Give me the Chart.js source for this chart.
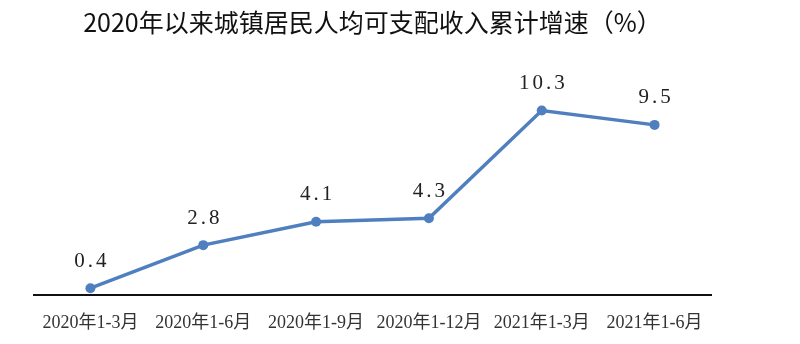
<!DOCTYPE html>
<html>
<head>
<meta charset="utf-8">
<script src="https://cdn.jsdelivr.net/npm/chart.js@4/dist/chart.umd.min.js"></script>
<style>
  html, body { margin: 0; padding: 0; background: #fff; }
  #wrap { width: 800px; height: 344px; }
</style>
</head>
<body>
<div id="wrap"><canvas id="c" width="800" height="344"></canvas></div>
<script>
// 城镇居民人均可支配收入累计增速（%）
const periods = ['2020年1-3月', '2020年1-6月', '2020年1-9月', '2020年1-12月', '2021年1-3月', '2021年1-6月'];
const growth = [0.4, 2.8, 4.1, 4.3, 10.3, 9.5];

const lineColor = '#4f7fbf';

// Value labels above each point
const valueLabels = {
  id: 'valueLabels',
  afterDatasetsDraw(chart) {
    const ctx = chart.ctx;
    const meta = chart.getDatasetMeta(0);
    ctx.save();
    ctx.font = '21px "Liberation Serif", "DejaVu Serif", serif';
    ctx.fillStyle = '#222';
    ctx.textAlign = 'center';
    ctx.textBaseline = 'middle';
    if ('letterSpacing' in ctx) ctx.letterSpacing = '3px';
    meta.data.forEach((pt, i) => {
      const v = chart.data.datasets[0].data[i];
      ctx.fillText(v.toFixed(1), pt.x + 1.5, pt.y - 27);
    });
    ctx.restore();
  }
};

new Chart(document.getElementById('c'), {
  type: 'line',
  data: {
    labels: periods,
    datasets: [{
      data: growth,
      borderColor: lineColor,
      backgroundColor: lineColor,
      borderWidth: 3.5,
      pointRadius: 5,
      pointHoverRadius: 5,
      pointBorderWidth: 0,
      tension: 0,
      clip: false
    }]
  },
  options: {
    responsive: false,
    animation: false,
    events: [],
    layout: { padding: { left: 34, right: 89, top: 0, bottom: -7 } },
    plugins: {
      legend: { display: false },
      tooltip: { enabled: false },
      title: {
        display: true,
        text: '2020年以来城镇居民人均可支配收入累计增速（%）',
        color: '#111',
        font: { family: '"Noto Sans CJK SC", sans-serif', size: 25, weight: 'normal', lineHeight: 1.2 },
        padding: { top: 7, bottom: 43 }
      }
    },
    scales: {
      x: {
        offset: true,
        grid: { display: false, drawTicks: false },
        border: { display: true, color: '#111', width: 2 },
        ticks: {
          color: '#333',
          padding: 17,
          maxRotation: 0,
          autoSkip: false,
          font: { family: '"Liberation Serif", "Noto Sans CJK SC", serif', size: 18, lineHeight: 1.2 }
        }
      },
      y: {
        display: false,
        min: 0,
        max: 12
      }
    }
  },
  plugins: [valueLabels]
});
</script>
</body>
</html>
